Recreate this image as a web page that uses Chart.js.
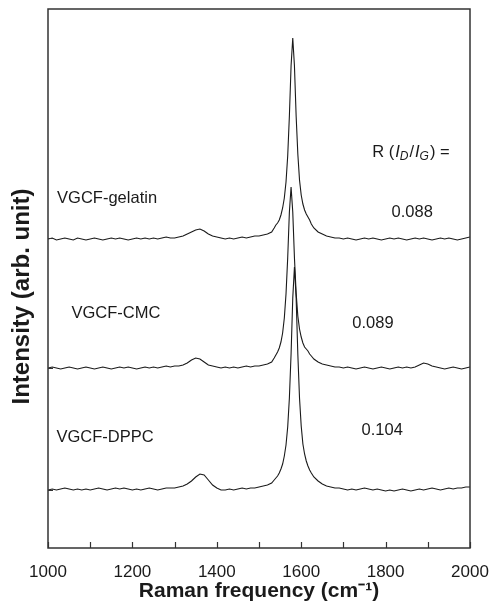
<!DOCTYPE html>
<html>
<head>
<meta charset="utf-8">
<script src="https://cdn.jsdelivr.net/npm/chart.js@4.4.0/dist/chart.umd.min.js"></script>
<style>
  html, body { margin: 0; padding: 0; background: #fff; }
  #wrap { width: 490px; height: 614px; }
</style>
</head>
<body>
<div id="wrap"><canvas id="c" width="490" height="614"></canvas></div>
<script>
// Raman shift (cm-1) sample positions
const wavenumbers = [
  1000,1010,1020,1030,1040,1050,1060,1070,1080,1090,
  1100,1110,1120,1130,1140,1150,1160,1170,1180,1190,
  1200,1210,1220,1230,1240,1250,1260,1270,1280,1290,
  1300,1310,1320,1330,1340,1350,1360,1370,1380,1390,
  1400,1410,1420,1430,1440,1450,1460,1470,1480,1490,
  1500,1510,1520,1530,
  1536,1540,1544,1548,1552,1556,1560,1564,1568,1572,1576,1580,1584,1588,1592,1596,1600,1604,1608,1612,1616,1620,1624,
  1630,1640,1650,1660,1670,1680,1690,1700,1710,1720,
  1730,1740,1750,1760,1770,1780,1790,1800,1810,1820,
  1830,1840,1850,1860,1870,1880,1890,1900,1910,1920,
  1930,1940,1950,1960,1970,1980,1990,2000
];

// Intensities (arb. unit, offset traces)
const gelatin = [
  309,310,308,309,310,309,308,310,309,308,
  309,310,309,308,309,310,309,310,309,308,
  309,310,309,310,309,310,309,310,311,310,
  310,311,312,314,316,318,319,317,314,312,
  311,310,309,310,309,310,311,310,311,312,
  312,313,314,316,
  320,323,325,328,333,340,350,366,392,432,482,510,482,432,394,368,353,344,338,334,331,328,324,
  320,316,314,312,311,310,310,309,310,309,
  308,309,310,309,310,309,308,309,310,309,
  310,309,308,309,310,309,310,309,308,309,
  310,309,310,309,308,309,310,311
];
const cmc = [
  180,181,180,179,180,181,180,179,180,181,
  180,179,180,181,180,179,180,181,180,181,
  180,179,180,181,180,181,180,181,182,181,
  182,182,183,185,188,190,189,186,183,182,
  181,180,181,180,181,180,181,182,181,182,
  182,183,184,186,
  190,193,196,200,206,215,230,254,290,336,361,336,290,255,232,219,211,205,201,199,197,194,192,
  189,186,184,183,182,181,181,180,181,180,
  179,180,181,180,179,180,181,180,179,180,
  181,180,181,180,181,183,185,184,182,181,
  180,179,180,181,180,179,180,181
];
const dppc = [
  58,59,58,59,60,59,58,59,58,59,
  58,59,60,59,58,59,60,59,60,59,
  58,59,58,59,60,59,58,59,60,60,
  60,61,62,64,67,71,74,73,68,63,
  60,58,58,59,58,59,60,59,60,60,
  61,62,63,65,
  68,70,72,75,79,84,92,103,121,150,194,250,281,250,194,150,122,104,94,87,82,78,75,
  71,67,64,62,61,60,60,59,58,59,
  58,59,60,59,58,59,58,57,58,57,
  58,59,58,57,58,59,58,59,60,59,
  58,59,60,59,60,60,61,61
];

const xTickValues = [1000,1100,1200,1300,1400,1500,1600,1700,1800,1900,2000];
const yTickValues = [58,180,310];

const sampleNames = ['VGCF-gelatin','VGCF-CMC','VGCF-DPPC'];
const sampleLabelX = [1140,1161,1135];
const sampleLabelY = [350,235,111];
const ratioValues = ['0.088','0.089','0.104'];
const ratioLabelX = [1863,1770,1792];
const ratioLabelY = [336,225,118];
const ratioHeaderX = 1860;
const ratioHeaderY = 396;

const yTitle = 'Intensity (arb. unit)';
const xTitle = 'Raman frequency (cm\u207B\u00B9)';

const INK = '#1a1a1a';
const FONT = '"Liberation Sans", Arial, Helvetica, sans-serif';

function toPoints(arr){ return wavenumbers.map((x,i)=>({x:x, y:arr[i]})); }

const decor = {
  id: 'decor',
  afterDraw(chart){
    const {ctx, chartArea:a, scales:{x, y}} = chart;
    ctx.save();
    // frame
    ctx.strokeStyle = '#333';
    ctx.lineWidth = 1.5;
    ctx.strokeRect(a.left, a.top, a.right - a.left, a.bottom - a.top);
    // inward ticks
    ctx.lineWidth = 1.2;
    ctx.beginPath();
    xTickValues.forEach(v => {
      const px = Math.round(x.getPixelForValue(v)) + 0.5;
      ctx.moveTo(px, a.bottom); ctx.lineTo(px, a.bottom - 6);
    });
    yTickValues.forEach(v => {
      const py = Math.round(y.getPixelForValue(v)) + 0.5;
      ctx.moveTo(a.left, py); ctx.lineTo(a.left + 5, py);
    });
    ctx.stroke();
    // y axis title (rotated), slightly below the plot centre as in the original
    ctx.fillStyle = INK;
    ctx.save();
    ctx.translate(a.left - 26, (a.top + a.bottom) / 2 + 18);
    ctx.rotate(-Math.PI / 2);
    ctx.textAlign = 'center';
    ctx.textBaseline = 'middle';
    ctx.font = 'bold 24px ' + FONT;
    ctx.fillText(yTitle, 0, 0);
    ctx.restore();
    // text labels
    ctx.textAlign = 'center';
    ctx.textBaseline = 'middle';
    ctx.font = '16.5px ' + FONT;
    sampleNames.forEach((t,i) => ctx.fillText(t, x.getPixelForValue(sampleLabelX[i]), y.getPixelForValue(sampleLabelY[i])));
    ratioValues.forEach((t,i) => ctx.fillText(t, x.getPixelForValue(ratioLabelX[i]), y.getPixelForValue(ratioLabelY[i])));
    // R (I_D/I_G) =
    const parts = [
      {t:'R (', f:'16.5px ' + FONT, dy:0, gap:1},
      {t:'I', f:'italic 16.5px ' + FONT, dy:0, gap:0},
      {t:'D', f:'italic 12px ' + FONT, dy:5, gap:1},
      {t:'/', f:'16.5px ' + FONT, dy:0, gap:1},
      {t:'I', f:'italic 16.5px ' + FONT, dy:0, gap:0},
      {t:'G', f:'italic 12px ' + FONT, dy:5, gap:1},
      {t:') =', f:'16.5px ' + FONT, dy:0, gap:0}
    ];
    let total = 0;
    parts.forEach(p => { ctx.font = p.f; p.w = ctx.measureText(p.t).width + p.gap; total += p.w; });
    let cx = x.getPixelForValue(ratioHeaderX) - total/2;
    const cy = y.getPixelForValue(ratioHeaderY);
    ctx.textAlign = 'left';
    parts.forEach(p => { ctx.font = p.f; ctx.fillText(p.t, cx, cy + p.dy); cx += p.w; });
    ctx.restore();
  }
};

new Chart(document.getElementById('c'), {
  type: 'line',
  data: {
    datasets: [
      {label:'VGCF-gelatin', data: toPoints(gelatin)},
      {label:'VGCF-CMC', data: toPoints(cmc)},
      {label:'VGCF-DPPC', data: toPoints(dppc)}
    ].map(d => Object.assign(d, {borderColor: INK, borderWidth: 1.1, pointRadius: 0, tension: 0, fill: false}))
  },
  options: {
    responsive: false,
    animation: false,
    events: [],
    layout: { padding: {left: 0, right: 20, top: 9, bottom: 0} },
    plugins: { legend: {display: false}, tooltip: {enabled: false} },
    scales: {
      x: {
        type: 'linear', min: 1000, max: 2000,
        afterFit: s => { s.height = 66; s.paddingLeft = 0; s.paddingRight = 0; },
        afterBuildTicks: s => { s.ticks = xTickValues.map(v => ({value: v})); },
        grid: {display: false, drawTicks: false},
        border: {display: false},
        ticks: {
          padding: 14, color: INK, maxRotation: 0, autoSkip: false,
          font: {family: FONT, size: 17},
          callback: v => (v % 200 === 0 ? String(v) : '')
        },
        title: {display: true, text: xTitle, color: INK,
          font: {family: FONT, size: 21, weight: 'bold'}, padding: {top: 0, bottom: 10}}
      },
      y: {
        type: 'linear', min: 0, max: 539,
        afterFit: s => { s.width = 48; s.paddingTop = 0; s.paddingBottom = 0; },
        grid: {display: false, drawTicks: false},
        border: {display: false},
        ticks: {display: false},
        title: {display: false}
      }
    }
  },
  plugins: [decor]
});
</script>
</body>
</html>
